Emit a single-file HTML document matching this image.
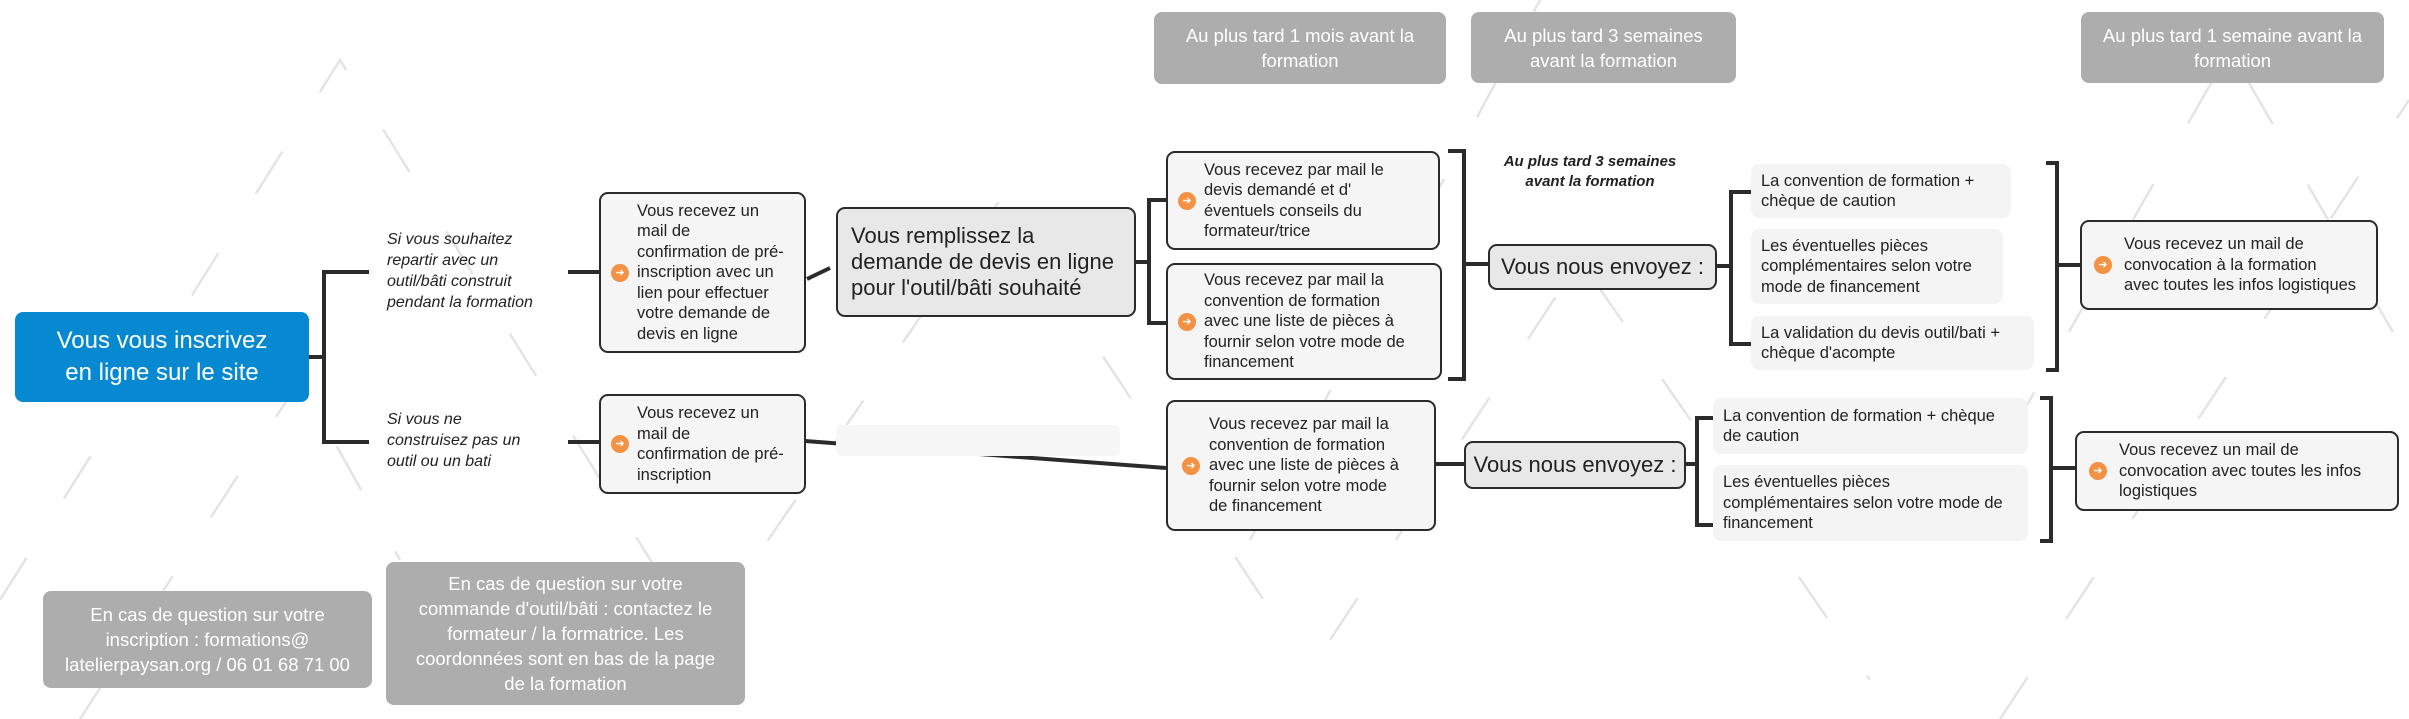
<!DOCTYPE html>
<html><head><meta charset="utf-8"><style>
body{margin:0;width:2409px;height:719px;background:#fff;position:relative;overflow:hidden;font-family:"Liberation Sans",sans-serif;color:#222}
.a{position:absolute;box-sizing:border-box}
.box{border:2.5px solid #2b2b2b;border-radius:9px;background:#f6f5f5;font-size:16.5px;line-height:20.5px;display:flex;align-items:center;padding-left:36px;padding-right:4px;white-space:nowrap}
.ic{position:absolute;left:10px;top:50%;margin-top:-9px;width:18px;height:18px;border-radius:50%;background:#f39244;color:#fff;font-size:11px;line-height:18px;text-align:center}
.hd{background:#adadad;border-radius:8px;color:#fff;font-size:18.5px;line-height:25px;text-align:center;display:flex;align-items:center;justify-content:center;white-space:nowrap}
.it{background:#f5f4f4;border-radius:8px;font-size:16.5px;line-height:20.5px;padding:5px 10px;display:flex;align-items:center;white-space:nowrap}
.env{border:2.5px solid #2b2b2b;border-radius:9px;background:#e8e8e8;font-size:22px;display:flex;align-items:center;justify-content:center;white-space:nowrap}
.lab{font-style:italic;font-size:16px;line-height:21px;white-space:nowrap}
</style></head><body>
<svg class="a" style="left:0;top:0" width="2409" height="719">
<g stroke="#e4e4e4" stroke-width="2.5" stroke-dasharray="50 70" fill="none">
<path d="M0 600 L340 60 L700 640"/>
<path d="M700 640 L1000 200 L1290 640"/>
<path d="M1330 640 L1580 260 L1870 680"/>
<path d="M1250 540 L1540 0"/>
<path d="M1950 540 L2230 50 L2409 360"/>
<path d="M2000 719 L2409 100"/>
<path d="M80 719 L300 380 L400 560"/>
</g>
<g stroke="#2b2b2b" stroke-width="4" fill="none">
<path d="M309 357 H324 M369 272 H324 V442 H369"/>
<path d="M568 272 H599 M568 442 H599"/>
<path d="M807 279 L830 268"/>
<path d="M1135 262 H1149 M1166 200 H1149 V323 H1166"/>
<path d="M1448 151 H1464 V379 H1448 M1464 264 H1488"/>
<path d="M1716 266 H1731 M1751 192 H1731 V344 H1751"/>
<path d="M2046 163 H2057 V370 H2046 M2057 265 H2080"/>
<path d="M805 441 L1166 468"/>
<path d="M1435 464 H1464"/>
<path d="M1685 464 H1697 M1714 418 H1697 V525 H1714"/>
<path d="M2040 398 H2051 V541 H2040 M2051 468 H2075"/>
</g>
</svg>
<div class="a" style="left:15px;top:312px;width:294px;height:90px;background:#0789d1;border-radius:8px;color:#fff;font-size:24px;line-height:32px;text-align:center;display:flex;align-items:center;justify-content:center">Vous vous inscrivez<br>en ligne sur le site</div>
<div class="a lab" style="left:387px;top:229px">Si vous souhaitez<br>repartir avec un<br>outil/bâti construit<br>pendant la formation</div>
<div class="a lab" style="left:387px;top:409px">Si vous ne<br>construisez pas un<br>outil ou un bati</div>
<div class="a box" style="left:599px;top:192px;width:207px;height:161px"><span class="ic">➔</span>Vous recevez un<br>mail de<br>confirmation de pré-<br>inscription avec un<br>lien pour effectuer<br>votre demande de<br>devis en ligne</div>
<div class="a box" style="left:599px;top:394px;width:207px;height:100px"><span class="ic">➔</span>Vous recevez un<br>mail de<br>confirmation de pré-<br>inscription</div>
<div class="a env" style="left:836px;top:207px;width:300px;height:110px;justify-content:flex-start;padding-left:13px;font-size:22px;line-height:26px">Vous remplissez la<br>demande de devis en ligne<br>pour l'outil/bâti souhaité</div>
<div class="a box" style="left:1166px;top:151px;width:274px;height:99px"><span class="ic">➔</span>Vous recevez par mail le<br>devis demandé et d'<br>éventuels conseils du<br>formateur/trice</div>
<div class="a box" style="left:1166px;top:263px;width:276px;height:117px"><span class="ic">➔</span>Vous recevez par mail la<br>convention de formation<br>avec une liste de pièces à<br>fournir selon votre mode de<br>financement</div>
<div class="a" style="left:836px;top:425px;width:284px;height:31px;background:#f7f7f7;border-radius:6px"></div>
<div class="a box" style="left:1166px;top:400px;width:270px;height:131px;padding-left:41px"><span class="ic" style="left:14px">➔</span>Vous recevez par mail la<br>convention de formation<br>avec une liste de pièces à<br>fournir selon votre mode<br>de financement</div>
<div class="a hd" style="left:1154px;top:12px;width:292px;height:72px">Au plus tard 1 mois avant la<br>formation</div>
<div class="a hd" style="left:1471px;top:12px;width:265px;height:71px">Au plus tard 3 semaines<br>avant la formation</div>
<div class="a hd" style="left:2081px;top:12px;width:303px;height:71px">Au plus tard 1 semaine avant la<br>formation</div>
<div class="a" style="left:1480px;top:152px;width:220px;text-align:center;font-style:italic;font-weight:bold;font-size:15px;line-height:20px">Au plus tard 3 semaines<br>avant la formation</div>
<div class="a env" style="left:1488px;top:244px;width:229px;height:46px">Vous nous envoyez :</div>
<div class="a env" style="left:1464px;top:441px;width:222px;height:48px">Vous nous envoyez :</div>
<div class="a it" style="left:1751px;top:164px;width:260px;height:54px">La convention de formation +<br>chèque de caution</div>
<div class="a it" style="left:1751px;top:229px;width:252px;height:75px">Les éventuelles pièces<br>complémentaires selon votre<br>mode de financement</div>
<div class="a it" style="left:1751px;top:316px;width:283px;height:54px">La validation du devis outil/bati +<br>chèque d'acompte</div>
<div class="a it" style="left:1713px;top:398px;width:315px;height:56px">La convention de formation + chèque<br>de caution</div>
<div class="a it" style="left:1713px;top:465px;width:315px;height:76px">Les éventuelles pièces<br>complémentaires selon votre mode de<br>financement</div>
<div class="a box" style="left:2080px;top:220px;width:298px;height:90px;padding-left:42px"><span class="ic" style="left:12px">➔</span>Vous recevez un mail de<br>convocation à la formation<br>avec toutes les infos logistiques</div>
<div class="a box" style="left:2075px;top:431px;width:324px;height:80px;padding-left:42px"><span class="ic" style="left:12px">➔</span>Vous recevez un mail de<br>convocation avec toutes les infos<br>logistiques</div>
<div class="a hd" style="left:43px;top:591px;width:329px;height:97px;line-height:25px">En cas de question sur votre<br>inscription : formations@<br>latelierpaysan.org / 06 01 68 71 00</div>
<div class="a hd" style="left:386px;top:562px;width:359px;height:143px;line-height:25px">En cas de question sur votre<br>commande d'outil/bâti : contactez le<br>formateur / la formatrice. Les<br>coordonnées sont en bas de la page<br>de la formation</div>
</body></html>
